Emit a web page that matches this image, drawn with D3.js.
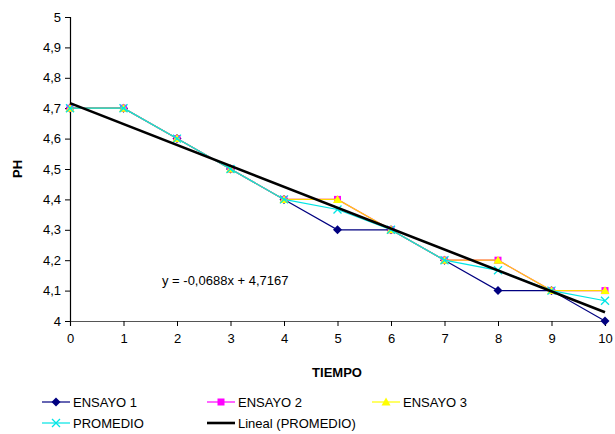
<!DOCTYPE html>
<html><head><meta charset="utf-8">
<script src="https://cdn.jsdelivr.net/npm/d3@7"></script>
<style>body{margin:0;background:#fff}svg{display:block;font-family:"Liberation Sans",Arial,sans-serif}</style>
</head><body><svg id="c" width="615" height="434"></svg>
<script>
const tiempo = [0,1,2,3,4,5,6,7,8,9,10];
const ensayo1 = [4.7,4.7,4.6,4.5,4.4,4.3,4.3,4.2,4.1,4.1,4.0];
const ensayo2 = [4.7,4.7,4.6,4.5,4.4,4.4,4.3,4.2,4.2,4.1,4.1];
const ensayo3 = [4.7,4.7,4.6,4.5,4.4,4.4,4.3,4.2,4.2,4.1,4.1];
const promedio = [4.7,4.7,4.6,4.5,4.4,4.3667,4.3,4.2,4.1667,4.1,4.0667];
const slope = -0.0688, intercept = 4.7167;
const yTicks = [4,4.1,4.2,4.3,4.4,4.5,4.6,4.7,4.8,4.9,5];

const svg = d3.select("#c");
const x = d3.scaleLinear().domain([0,10]).range([70,605]);
const y = d3.scaleLinear().domain([4,5]).range([321,17]);
const fmt = d => String(d).replace(".", ",");

const yAx = svg.append("g").attr("transform","translate(70,0)")
  .call(d3.axisLeft(y).tickValues(yTicks).tickFormat(fmt).tickSize(5).tickPadding(4));
const xAx = svg.append("g").attr("transform","translate(0,321)")
  .call(d3.axisBottom(x).tickValues(tiempo).tickFormat(d=>d).tickSize(5).tickPadding(8));
[yAx,xAx].forEach(g=>{
  g.selectAll("path").attr("stroke","#000").attr("stroke-width",1.2);
  g.selectAll("line").attr("stroke","#000");
  g.selectAll("text").attr("font-size",13).attr("fill","#000").attr("font-family","Liberation Sans, Arial, sans-serif");
});
xAx.select("path").attr("stroke","#555");

const line = d3.line().x((d,i)=>x(tiempo[i])).y(d=>y(d));

function marker(g, type, color, cx, cy){
  if(type==="diamond"){
    g.append("path").attr("d",`M${cx},${cy-4.5}L${cx+4.5},${cy}L${cx},${cy+4.5}L${cx-4.5},${cy}Z`).attr("fill",color);
  } else if(type==="square"){
    g.append("rect").attr("x",cx-3.5).attr("y",cy-3.5).attr("width",7).attr("height",7).attr("fill",color);
  } else if(type==="triangle"){
    g.append("path").attr("d",`M${cx},${cy-4.5}L${cx+4.5},${cy+3.5}L${cx-4.5},${cy+3.5}Z`).attr("fill",color);
  } else if(type==="x"){
    g.append("path").attr("d",`M${cx-4},${cy-4}L${cx+4},${cy+4}M${cx-4},${cy+4}L${cx+4},${cy-4}`).attr("stroke",color).attr("stroke-width",1.3).attr("fill","none");
  }
}

const series = [
  {name:"ENSAYO 1", data:ensayo1, color:"#000080", m:"diamond"},
  {name:"ENSAYO 2", data:ensayo2, color:"#FF00FF", m:"square"},
  {name:"ENSAYO 3", data:ensayo3, color:"#FFD700", mc:"#FFFF00", m:"triangle"},
  {name:"PROMEDIO", data:promedio, color:"#00E5E5", m:"x"}
];
series.forEach(s=>{
  const g = svg.append("g");
  g.append("path").attr("d",line(s.data)).attr("fill","none").attr("stroke",s.color).attr("stroke-width",1.2);
  s.data.forEach((v,i)=>marker(g,s.m,s.mc||s.color,x(tiempo[i]),y(v)));
});

// trendline
svg.append("line").attr("x1",x(0)).attr("y1",y(intercept)).attr("x2",x(10)).attr("y2",y(intercept+slope*10))
  .attr("stroke","#000").attr("stroke-width",2.6);

svg.append("text").attr("x",162).attr("y",285).attr("font-size",13).text("y = -0,0688x + 4,7167");

svg.append("text").attr("x",337).attr("y",377).attr("text-anchor","middle").attr("font-size",13).attr("font-weight","bold").text("TIEMPO");
svg.append("text").attr("transform","translate(22,169) rotate(-90)").attr("text-anchor","middle").attr("font-size",13).attr("font-weight","bold").text("PH");

// legend
const leg = [
  {s:series[0], lx:42, ly:402},
  {s:series[1], lx:207, ly:402},
  {s:series[2], lx:372, ly:402},
  {s:series[3], lx:42, ly:423},
  {s:{name:"Lineal (PROMEDIO)", color:"#000", m:null, w:2.6}, lx:207, ly:423}
];
leg.forEach(l=>{
  const g = svg.append("g");
  const lc = l.s.mc || l.s.color;
  g.append("line").attr("x1",l.lx).attr("x2",l.lx+28).attr("y1",l.ly).attr("y2",l.ly).attr("stroke",l.s.m==="triangle"?"#FFFF00":l.s.color).attr("stroke-width",l.s.w||1.2);
  if(l.s.m) marker(g,l.s.m,lc,l.lx+14,l.ly);
  g.append("text").attr("x",l.lx+31).attr("y",l.ly+5).attr("font-size",13).text(l.s.name);
});
</script></body></html>
